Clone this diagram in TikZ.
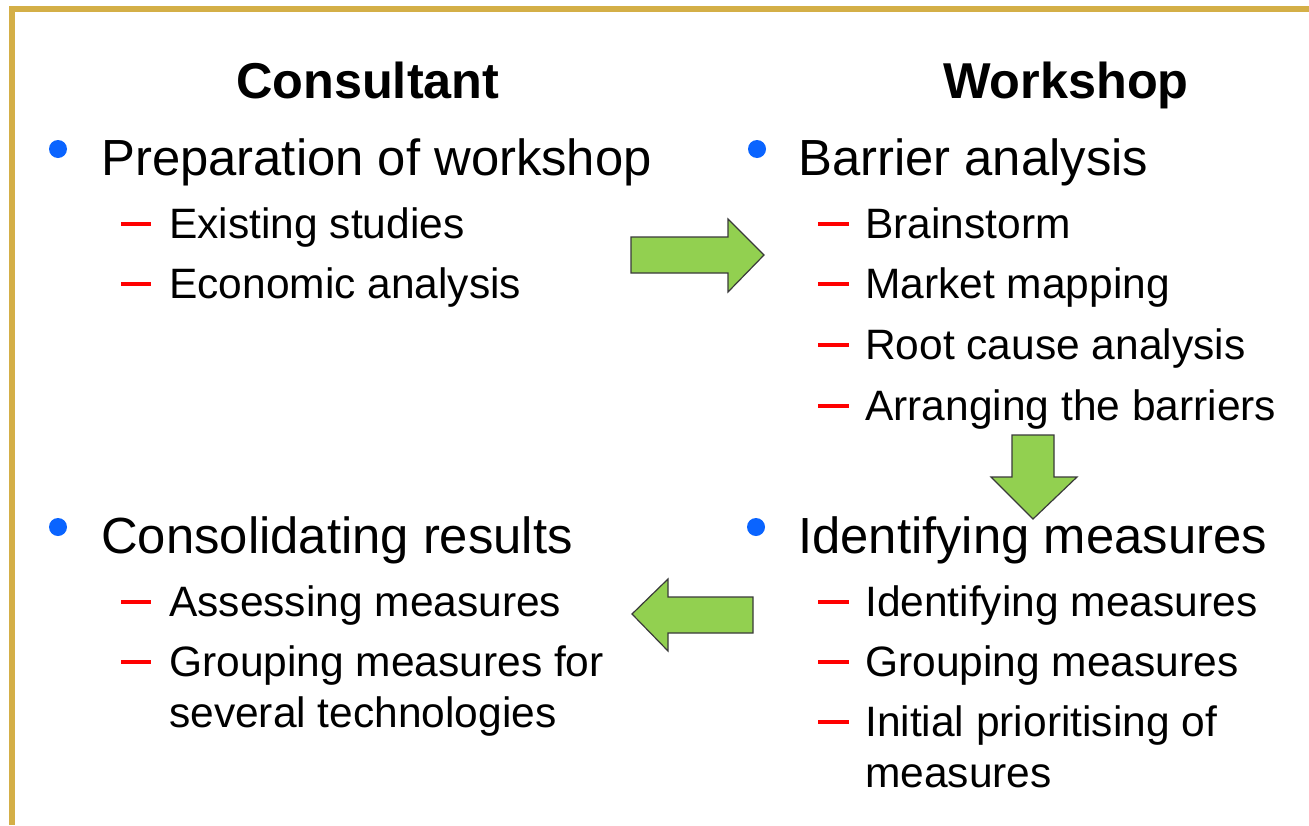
\documentclass[tikz,border=0pt]{standalone}
\usepackage{fontspec}
\setmainfont{Liberation Sans}
\definecolor{gold}{HTML}{D4AF47}
\definecolor{arrgreen}{HTML}{92D050}
\definecolor{arredge}{HTML}{3A3A3A}
\definecolor{bulblue}{HTML}{0A64FF}
\begin{document}
\begin{tikzpicture}[x=1pt,y=-1pt,
  head/.style={anchor=base west,inner sep=0pt,font=\fontsize{50.4}{60}\selectfont\bfseries},
  lone/.style={anchor=base west,inner sep=0pt,font=\fontsize{50.8}{60}\selectfont},
  ltwo/.style={anchor=base west,inner sep=0pt,font=\fontsize{42.5}{50}\selectfont},
  bul/.style={circle,fill=bulblue,inner sep=0pt,minimum size=18pt},
  dsh/.style={red,line width=4pt},
  blockarrow/.style={fill=arrgreen,draw=arredge,line width=1.2pt,line join=miter}]
\useasboundingbox (0,0) rectangle (1309,825);
\fill[white] (0,0) rectangle (1309,825);
% frame
\draw[gold,line width=6pt] (12,825) -- (12,9) -- (1309,9);
% headings
\node[head] (hc) at (236,98) {Consultant};
\node[head] (hw) at (943,98) {Workshop};
% upper left
\node[bul] (b1) at (58,149) {};
\node[lone] (t1) at (101,175) {Preparation of workshop};
\draw[dsh] (121,224) -- (151,224);
\node[ltwo] (t11) at (169,238) {Existing studies};
\draw[dsh] (121,284) -- (151,284);
\node[ltwo] (t12) at (169,298) {Economic analysis};
% upper right
\node[bul] (b2) at (757,149) {};
\node[lone] (t2) at (798,175) {Barrier analysis};
\draw[dsh] (818,224) -- (849,224);
\node[ltwo] (t21) at (865,238) {Brainstorm};
\draw[dsh] (818,284) -- (849,284);
\node[ltwo] (t22) at (865,298) {Market mapping};
\draw[dsh] (818,345) -- (849,345);
\node[ltwo] (t23) at (865,359) {Root cause analysis};
\draw[dsh] (818,406) -- (849,406);
\node[ltwo] (t24) at (865,420) {Arranging the barriers};
% lower left
\node[bul] (b3) at (58,527) {};
\node[lone] (t3) at (101,553) {Consolidating results};
\draw[dsh] (121,602) -- (151,602);
\node[ltwo] (t31) at (169,616) {Assessing measures};
\draw[dsh] (121,662) -- (151,662);
\node[ltwo] (t32) at (169,676) {Grouping measures for};
\node[ltwo] (t32b) at (169,727) {several technologies};
% lower right
\node[bul] (b4) at (756,527) {};
\node[lone] (t4) at (798,553) {Identifying measures};
\draw[dsh] (818,602) -- (849,602);
\node[ltwo] (t41) at (865,616) {Identifying measures};
\draw[dsh] (818,662) -- (849,662);
\node[ltwo] (t42) at (865,676) {Grouping measures};
\draw[dsh] (818,722) -- (849,722);
\node[ltwo] (t43) at (865,736) {Initial prioritising of};
\node[ltwo] (t43b) at (865,787) {measures};
% block arrows
\draw[blockarrow] (631,237) -- (728,237) -- (728,219) -- (764,255) -- (728,292) -- (728,273) -- (631,273) -- cycle;
\draw[blockarrow] (1012,435) -- (1054,435) -- (1054,477) -- (1077,477) -- (1033,519) -- (991,477) -- (1012,477) -- cycle;
\draw[blockarrow] (753,597) -- (668,597) -- (668,579) -- (632,614) -- (668,651) -- (668,633) -- (753,633) -- cycle;
\end{tikzpicture}
\end{document}
